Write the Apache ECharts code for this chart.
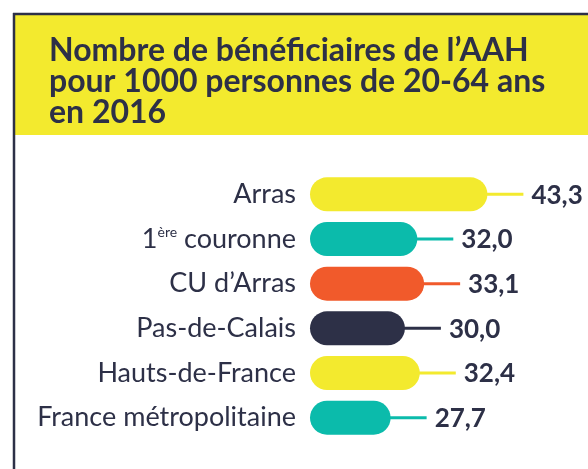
<!DOCTYPE html>
<html>
<head>
<meta charset="utf-8">
<script src="https://cdn.jsdelivr.net/npm/echarts@6/dist/echarts.min.js"></script>
<style>
  html, body { margin: 0; padding: 0; background: #fff; }
  #chart { width: 588px; height: 469px; }
</style>
</head>
<body>
<div id="chart"></div>
<script>
// données
const categories = ['Arras', '1ère couronne', 'CU d’Arras', 'Pas-de-Calais', 'Hauts-de-France', 'France métropolitaine'];
const values = [43.3, 32.0, 33.1, 30.0, 32.4, 27.7];
const barColors = ['#f3ea2e', '#0bbbab', '#f15a2b', '#2d3047', '#f3ea2e', '#0bbbab'];

const navy = '#2d3047';
const xMin = 14.7;   // début des barres
const leadGap = 5.8; // longueur du trait vers l'étiquette

const chart = echarts.init(document.getElementById('chart'));

const option = {
  animation: false,
  title: {
    text: 'Nombre de bénéficiaires de l’AAH\npour 1000 personnes de 20-64 ans\nen 2016',
    left: 44,
    top: 30,
    textStyle: {
      fontFamily: 'Lato',
      fontWeight: 'bold',
      fontSize: 32,
      lineHeight: 31,
      color: navy
    }
  },
  graphic: [
    { type: 'rect', z: -10, shape: { x: 15, y: 15, width: 573, height: 120 }, style: { fill: '#f3ea2e' } },
    { type: 'line', z: -5, shape: { x1: 13, y1: 14, x2: 588, y2: 14 }, style: { stroke: navy, lineWidth: 2.5 } },
    { type: 'line', z: -5, shape: { x1: 14, y1: 13, x2: 14, y2: 469 }, style: { stroke: navy, lineWidth: 2.5 } }
  ],
  grid: {
    left: 310,
    right: 28,
    top: 172,
    bottom: 29
  },
  xAxis: {
    type: 'value',
    min: xMin,
    max: 55,
    show: false
  },
  yAxis: {
    type: 'category',
    data: categories,
    inverse: true,
    axisLine: { show: false },
    axisTick: { show: false },
    splitLine: { show: false },
    axisLabel: {
      margin: 14,
      color: navy,
      fontFamily: 'Lato',
      fontSize: 27,
      formatter: (val) => val.replace('1ère', '1{sup|ère}'),
      rich: {
        sup: {
          fontFamily: 'Lato',
          fontSize: 14,
          color: navy,
          verticalAlign: 'top',
          padding: [0, 0, 13, 0]
        }
      }
    }
  },
  series: [
    {
      type: 'custom',
      data: values.map((v, i) => [v, i]),
      encode: { x: 0, y: 1 },
      renderItem: (params, api) => {
        const v = api.value(0);
        const cat = api.value(1);
        const color = barColors[params.dataIndex];
        const start = api.coord([xMin, cat]);
        const end = api.coord([v, cat]);
        const lead = api.coord([v + leadGap, cat]);
        const h = 34;
        return {
          type: 'group',
          children: [
            {
              type: 'line',
              shape: { x1: end[0] - 5, y1: end[1], x2: lead[0], y2: lead[1] },
              style: { stroke: color, lineWidth: 3 }
            },
            {
              type: 'rect',
              shape: { x: start[0], y: start[1] - h / 2, width: end[0] - start[0], height: h, r: h / 2 },
              style: { fill: color }
            },
            {
              type: 'text',
              style: {
                text: v.toFixed(1).replace('.', ','),
                x: lead[0] + 8,
                y: lead[1] + 1,
                verticalAlign: 'middle',
                fill: navy,
                font: 'bold 26px Lato'
              }
            }
          ]
        };
      }
    }
  ]
};

chart.setOption(option);
</script>
</body>
</html>
